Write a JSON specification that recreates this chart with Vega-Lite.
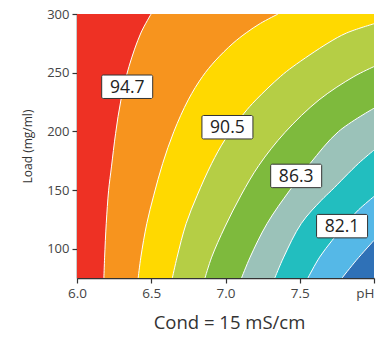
{
  "$schema": "https://vega.github.io/schema/vega-lite/v6.json",
  "width": 297,
  "height": 264,
  "autosize": {"type": "none"},
  "padding": {"left": 77, "top": 14, "right": 2, "bottom": 60},
  "background": "white",
  "config": {
    "view": {"stroke": null},
    "font": "Open Sans",
    "axis": {"grid": false, "domainColor": "#333", "domainWidth": 1.5, "tickColor": "#333", "tickWidth": 1.2, "tickSize": 5, "labelColor": "#444", "labelFontSize": 13, "titleColor": "#333", "titleFontWeight": "normal"}
  },
  "datasets": {
    "bounds": [
      {"b": 0, "load": 75, "ph": 6.0}, {"b": 0, "load": 300, "ph": 6.0},
      {"b": 1, "load": 75, "ph": 6.181}, {"b": 1, "load": 92.8, "ph": 6.186}, {"b": 1, "load": 121.6, "ph": 6.197}, {"b": 1, "load": 149.8, "ph": 6.213}, {"b": 1, "load": 169.7, "ph": 6.232}, {"b": 1, "load": 198.3, "ph": 6.26}, {"b": 1, "load": 226.8, "ph": 6.296}, {"b": 1, "load": 255.2, "ph": 6.35}, {"b": 1, "load": 283.8, "ph": 6.43}, {"b": 1, "load": 300, "ph": 6.499},
      {"b": 2, "load": 75, "ph": 6.412}, {"b": 2, "load": 92.8, "ph": 6.43}, {"b": 2, "load": 121.4, "ph": 6.47}, {"b": 2, "load": 145.6, "ph": 6.517}, {"b": 2, "load": 172.6, "ph": 6.577}, {"b": 2, "load": 199.7, "ph": 6.652}, {"b": 2, "load": 226.8, "ph": 6.749}, {"b": 2, "load": 246.7, "ph": 6.845}, {"b": 2, "load": 260, "ph": 6.93}, {"b": 2, "load": 275, "ph": 7.05}, {"b": 2, "load": 284, "ph": 7.14}, {"b": 2, "load": 292, "ph": 7.235}, {"b": 2, "load": 300, "ph": 7.354},
      {"b": 3, "load": 75, "ph": 6.642}, {"b": 3, "load": 92.8, "ph": 6.674}, {"b": 3, "load": 121.4, "ph": 6.735}, {"b": 3, "load": 145.6, "ph": 6.81}, {"b": 3, "load": 172.6, "ph": 6.907}, {"b": 3, "load": 192.6, "ph": 6.995}, {"b": 3, "load": 215.4, "ph": 7.125}, {"b": 3, "load": 226.8, "ph": 7.205}, {"b": 3, "load": 246.7, "ph": 7.37}, {"b": 3, "load": 255.2, "ph": 7.455}, {"b": 3, "load": 275.2, "ph": 7.69}, {"b": 3, "load": 283.8, "ph": 7.815}, {"b": 3, "load": 291.7, "ph": 8.0},
      {"b": 4, "load": 75, "ph": 6.862}, {"b": 4, "load": 92.8, "ph": 6.907}, {"b": 4, "load": 118.5, "ph": 6.996}, {"b": 4, "load": 145.6, "ph": 7.105}, {"b": 4, "load": 171, "ph": 7.225}, {"b": 4, "load": 199, "ph": 7.4}, {"b": 4, "load": 226.8, "ph": 7.63}, {"b": 4, "load": 246.7, "ph": 7.865}, {"b": 4, "load": 255.2, "ph": 8.0},
      {"b": 5, "load": 75, "ph": 7.108}, {"b": 5, "load": 92.8, "ph": 7.166}, {"b": 5, "load": 121.4, "ph": 7.28}, {"b": 5, "load": 149.8, "ph": 7.433}, {"b": 5, "load": 172.6, "ph": 7.57}, {"b": 5, "load": 199.7, "ph": 7.76}, {"b": 5, "load": 219.7, "ph": 8.0},
      {"b": 6, "load": 75, "ph": 7.332}, {"b": 6, "load": 92.8, "ph": 7.392}, {"b": 6, "load": 121.4, "ph": 7.51}, {"b": 6, "load": 141.2, "ph": 7.645}, {"b": 6, "load": 149.8, "ph": 7.715}, {"b": 6, "load": 172.6, "ph": 7.895}, {"b": 6, "load": 184, "ph": 8.0},
      {"b": 7, "load": 75, "ph": 7.555}, {"b": 7, "load": 92.8, "ph": 7.634}, {"b": 7, "load": 107, "ph": 7.718}, {"b": 7, "load": 121.4, "ph": 7.81}, {"b": 7, "load": 133, "ph": 7.895}, {"b": 7, "load": 144.5, "ph": 8.0},
      {"b": 8, "load": 75, "ph": 7.785}, {"b": 8, "load": 90, "ph": 7.88}, {"b": 8, "load": 107.1, "ph": 8.0}
    ],
    "labels": [
      {"ph": 6.338, "load": 238, "label": "94.7"},
      {"ph": 7.013, "load": 203.5, "label": "90.5"},
      {"ph": 7.476, "load": 162, "label": "86.3"},
      {"ph": 7.785, "load": 119.2, "label": "82.1"}
    ]
  },
  "encoding": {
    "x": {"field": "ph", "type": "quantitative", "scale": {"domain": [6, 8], "nice": false, "zero": false},
      "axis": {"values": [6, 6.5, 7, 7.5, 8], "labelExpr": "datum.value == 8 ? 'pH' : format(datum.value, '.1f')", "labelAlign": {"expr": "datum.value == 8 ? 'right' : 'center'"}, "labelFontSize": 13.5, "labelPadding": 3, "title": "Cond = 15 mS/cm", "titleFontSize": 18.5, "titlePadding": 14, "titleX": 152}},
    "y": {"field": "load", "type": "quantitative", "scale": {"domain": [75, 300], "nice": false, "zero": false},
      "axis": {"values": [100, 150, 200, 250, 300], "labelPadding": 3, "title": "Load (mg/ml)", "titleFontSize": 12, "titlePadding": 12}}
  },
  "layer": [
    {"data": {"name": "bounds"}, "transform": [{"filter": "datum.b == 0"}], "mark": {"type": "area", "orient": "horizontal", "interpolate": "catmull-rom", "color": "#EE3124", "clip": true}, "encoding": {"x2": {"datum": 8}}},
    {"data": {"name": "bounds"}, "transform": [{"filter": "datum.b == 1"}], "mark": {"type": "area", "orient": "horizontal", "interpolate": "catmull-rom", "color": "#F7941E", "clip": true}, "encoding": {"x2": {"datum": 8}}},
    {"data": {"name": "bounds"}, "transform": [{"filter": "datum.b == 2"}], "mark": {"type": "area", "orient": "horizontal", "interpolate": "catmull-rom", "color": "#FFD900", "clip": true}, "encoding": {"x2": {"datum": 8}}},
    {"data": {"name": "bounds"}, "transform": [{"filter": "datum.b == 3"}], "mark": {"type": "area", "orient": "horizontal", "interpolate": "catmull-rom", "color": "#B5CE45", "clip": true}, "encoding": {"x2": {"datum": 8}}},
    {"data": {"name": "bounds"}, "transform": [{"filter": "datum.b == 4"}], "mark": {"type": "area", "orient": "horizontal", "interpolate": "catmull-rom", "color": "#7EBA3D", "clip": true}, "encoding": {"x2": {"datum": 8}}},
    {"data": {"name": "bounds"}, "transform": [{"filter": "datum.b == 5"}], "mark": {"type": "area", "orient": "horizontal", "interpolate": "catmull-rom", "color": "#9BC2B9", "clip": true}, "encoding": {"x2": {"datum": 8}}},
    {"data": {"name": "bounds"}, "transform": [{"filter": "datum.b == 6"}], "mark": {"type": "area", "orient": "horizontal", "interpolate": "catmull-rom", "color": "#22BEBF", "clip": true}, "encoding": {"x2": {"datum": 8}}},
    {"data": {"name": "bounds"}, "transform": [{"filter": "datum.b == 7"}], "mark": {"type": "area", "orient": "horizontal", "interpolate": "catmull-rom", "color": "#55B8E7", "clip": true}, "encoding": {"x2": {"datum": 8}}},
    {"data": {"name": "bounds"}, "transform": [{"filter": "datum.b == 8"}], "mark": {"type": "area", "orient": "horizontal", "interpolate": "catmull-rom", "color": "#2F71B7", "clip": true}, "encoding": {"x2": {"datum": 8}}},
    {"data": {"name": "bounds"}, "transform": [{"filter": "datum.b > 0"}], "mark": {"type": "line", "interpolate": "catmull-rom", "color": "white", "strokeWidth": 1, "clip": true},
      "encoding": {"detail": {"field": "b", "type": "nominal"}, "order": {"field": "load", "type": "quantitative"}}},
    {"data": {"name": "labels"}, "mark": {"type": "point", "shape": "M-0.94,-0.46H0.94A0.06,0.06 0 0 1 1,-0.4V0.4A0.06,0.06 0 0 1 0.94,0.46H-0.94A0.06,0.06 0 0 1 -1,0.4V-0.4A0.06,0.06 0 0 1 -0.94,-0.46Z", "size": 2601, "filled": true, "fill": "white", "stroke": "#333", "strokeWidth": 1, "opacity": 1}},
    {"data": {"name": "labels"}, "mark": {"type": "text", "fontSize": 17.5, "color": "#222", "align": "center", "baseline": "middle", "dy": 1}, "encoding": {"text": {"field": "label"}}}
  ]
}
